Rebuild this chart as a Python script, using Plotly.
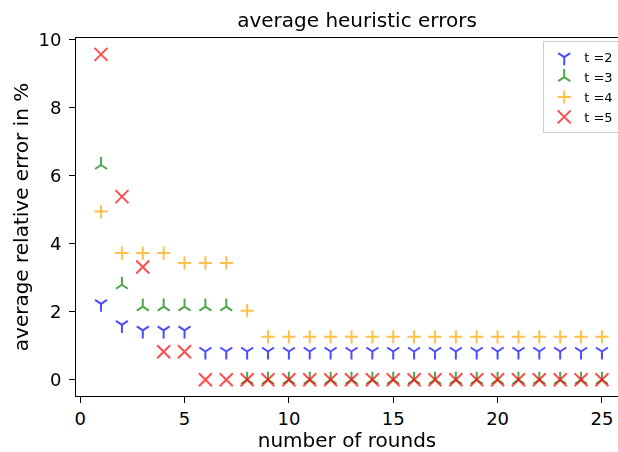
import plotly.graph_objects as go

rounds = [1, 2, 3, 4, 5, 6, 7, 8, 9, 10, 11, 12, 13, 14, 15, 16, 17, 18, 19, 20, 21, 22, 23, 24, 25]
t2 = [2.23, 1.61, 1.45, 1.45, 1.45, 0.83, 0.83, 0.83, 0.83, 0.83, 0.83, 0.83, 0.83,
      0.83, 0.83, 0.83, 0.83, 0.83, 0.83, 0.83, 0.83, 0.83, 0.83, 0.83, 0.83]
t3 = [6.31, 2.79, 2.15, 2.15, 2.15, 2.15, 2.15, 0.0, 0.0, 0.0, 0.0, 0.0, 0.0,
      0.0, 0.0, 0.0, 0.0, 0.0, 0.0, 0.0, 0.0, 0.0, 0.0, 0.0, 0.0]
t4 = [4.94, 3.72, 3.72, 3.72, 3.43, 3.43, 3.43, 2.03, 1.26, 1.26, 1.26, 1.26, 1.26,
      1.26, 1.26, 1.26, 1.26, 1.26, 1.26, 1.26, 1.26, 1.26, 1.26, 1.26, 1.26]
t5 = [9.56, 5.38, 3.31, 0.82, 0.82, 0.0, 0.0, 0.0, 0.0, 0.0, 0.0, 0.0, 0.0,
      0.0, 0.0, 0.0, 0.0, 0.0, 0.0, 0.0, 0.0, 0.0, 0.0, 0.0, 0.0]
labels = ["t =2", "t =3", "t =4", "t =5"]
xticks = [0, 5, 10, 15, 20, 25]
yticks = [0, 2, 4, 6, 8, 10]

series = [t2, t3, t4, t5]
colors = ["#0000ff", "#008000", "#ffa500", "#ff0000"]
symbols = ["y-down", "y-up", "cross-thin", "x-thin"]
sizes = [10, 10, 9.5, 13]

FONT = "DejaVu Sans"
fig = go.Figure()
for vals, lab, col, sym, sz in zip(series, labels, colors, symbols, sizes):
    fig.add_trace(go.Scatter(
        x=rounds, y=vals, mode="markers", name=lab, opacity=0.7,
        marker=dict(symbol=sym, size=sz, color=col, line=dict(color=col, width=2)),
    ))

fig.update_layout(
    width=618, height=452,
    margin=dict(l=76, r=0, t=38, b=56, autoexpand=False),
    paper_bgcolor="white", plot_bgcolor="white",
    font=dict(family=FONT, size=18, color="black"),
    title=dict(text="average heuristic errors", x=357 / 618, xref="container", xanchor="center",
               y=1 - 20 / 452, yanchor="middle", font=dict(size=20)),
    showlegend=True,
    legend=dict(x=0.862, y=0.991, xanchor="left", yanchor="top",
                bgcolor="rgba(255,255,255,0.8)", bordercolor="#cccccc", borderwidth=1,
                font=dict(size=13), tracegroupgap=0, itemwidth=30),
    xaxis=dict(range=[-0.2, 25.77], tickvals=xticks, ticks="outside", ticklen=6,
               tickwidth=1, tickcolor="black", showline=True, linecolor="black",
               linewidth=1, mirror=True, showgrid=False, zeroline=False, automargin=False,
               tickfont=dict(size=18),
               title=dict(text="number of rounds", standoff=6, font=dict(size=20))),
    yaxis=dict(range=[-0.478, 10.04], tickvals=yticks, ticks="outside", ticklen=6,
               tickwidth=1, tickcolor="black", showline=True, linecolor="black",
               linewidth=1, mirror=False, showgrid=False, zeroline=False, automargin=False,
               tickfont=dict(size=18), ticklabelstandoff=4,
               title=dict(text="average relative error in %", standoff=4, font=dict(size=20))),
)

fig.write_html("out.html", config={"displayModeBar": False},
               post_script="document.body.style.margin='0';")
